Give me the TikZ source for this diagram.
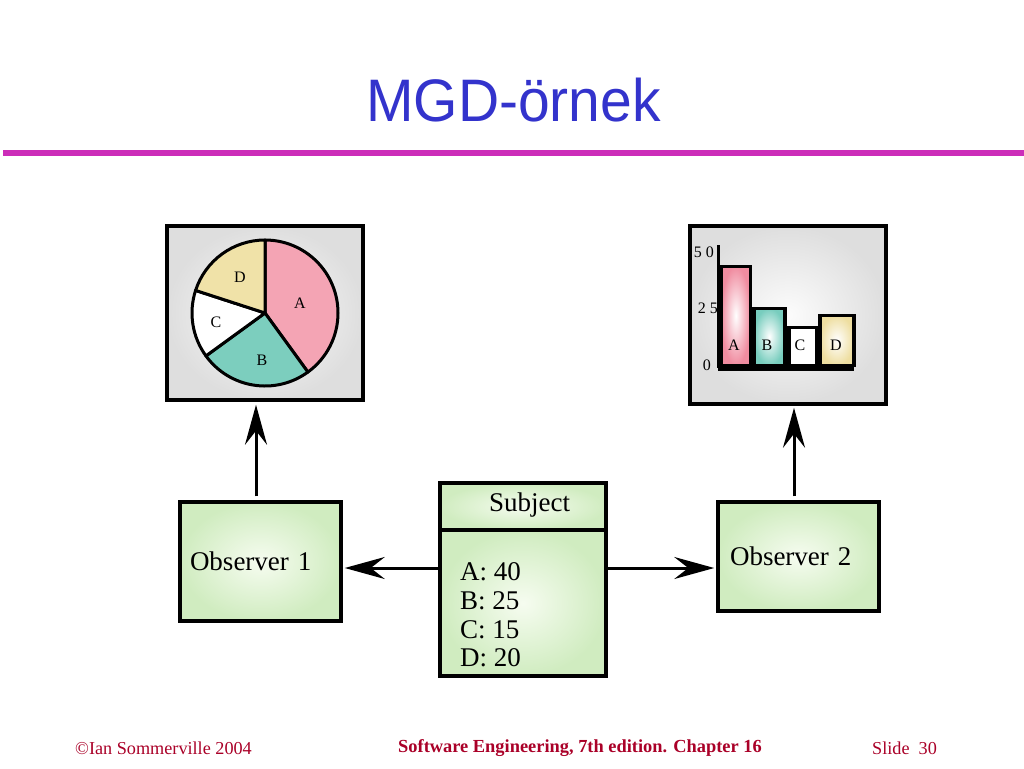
\documentclass[tikz,border=0pt]{standalone}
\usepackage{fontspec}
\setmainfont{Liberation Serif}
\newfontfamily\titlefont{Liberation Sans}
\usetikzlibrary{arrows.meta}
\definecolor{titleblue}{RGB}{51,51,204}
\definecolor{rulemag}{RGB}{204,45,185}
\definecolor{footred}{RGB}{170,0,40}
\definecolor{pieA}{RGB}{244,164,180}
\definecolor{pieB}{RGB}{124,206,190}
\definecolor{pieD}{RGB}{240,226,168}
\definecolor{barA}{RGB}{240,140,160}
\definecolor{barB}{RGB}{120,205,190}
\definecolor{barD}{RGB}{238,222,160}
\definecolor{greenout}{RGB}{208,236,192}
\definecolor{greenin}{RGB}{246,252,240}
\definecolor{grayout}{RGB}{222,222,222}
\definecolor{grayin}{RGB}{252,252,252}
\begin{document}
\begin{tikzpicture}[x=1pt,y=-1pt,
  greenbox/.style={draw=black, line width=3.5pt, shade, inner color=greenin, outer color=greenout, inner sep=0pt},
  graybox/.style={draw=black, line width=3.5pt, shade, inner color=grayin, outer color=grayout, inner sep=0pt},
  boxtext/.style={font=\fontsize{27}{30}\selectfont},
  arr/.style={line width=3pt, -{Stealth[length=40pt,width=22pt,inset=14pt]}},
  slice/.style={draw=black, line width=3pt, line join=round},
  small/.style={font=\fontsize{16}{18}\selectfont, inner sep=0pt},
  barbox/.style={draw=black, line width=3.5pt, inner sep=0pt, anchor=south west},
  foot/.style={text=footred, font=\fontsize{18.2}{20}\selectfont, inner sep=0pt}
]
\useasboundingbox[fill=white] (0,0) rectangle (1024,768);

% title and rule
\node[text=titleblue, inner sep=0pt] (title) at (513.5,100)
  {\titlefont\fontsize{60}{60}\selectfont\scalebox{0.95}[1]{MGD-örnek}};
\coordinate (ruleL) at (3,153);
\coordinate (ruleR) at (1024,153);
\draw[rulemag, line width=6pt] (ruleL) -- (ruleR);

% boxes
\node[graybox, minimum width=196pt, minimum height=174pt] (piebox) at (265,313) {};
\node[graybox, minimum width=196pt, minimum height=178pt] (barchart) at (788,315) {};
\node[greenbox, minimum height=119pt, text width=141pt, inner xsep=10pt, align=left, boxtext] (obs1) at (260.5,561.5) {Observer 1};
\node[greenbox, minimum height=109pt, text width=137pt, inner xsep=12pt, align=left, boxtext] (obs2) at (798.5,556.5) {Observer 2};
\node[greenbox, minimum width=166pt, minimum height=47pt] (subjhead) at (523,506.5) {};
\node[greenbox, minimum width=166pt, minimum height=146pt] (subjbody) at (523,603) {};
\node[boxtext, anchor=west, inner sep=0pt] (subjtitle) at (489,505) {Subject};
\node[anchor=west, inner sep=0pt, align=left, font=\fontsize{27}{28.7}\selectfont] (subjvals) at (460,615)
  {A: 40\\B: 25\\C: 15\\D: 20};

% pie chart
\begin{scope}[shift={(265,313)}, yscale=-1]
  \filldraw[slice, fill=pieA] (0,0) -- (90:73) arc[start angle=90, end angle=-54, radius=73] -- cycle;
  \filldraw[slice, fill=pieB] (0,0) -- (-54:73) arc[start angle=-54, end angle=-144, radius=73] -- cycle;
  \filldraw[slice, fill=white] (0,0) -- (-144:73) arc[start angle=-144, end angle=-198, radius=73] -- cycle;
  \filldraw[slice, fill=pieD] (0,0) -- (-198:73) arc[start angle=-198, end angle=-270, radius=73] -- cycle;
\end{scope}
\node[small] (labD) at (240,277) {D};
\node[small] (labA) at (300,303) {A};
\node[small] (labC) at (216,322) {C};
\node[small] (labB) at (262,360) {B};

% bar chart
\node[small, anchor=east] (y50) at (714,252) {5 0};
\node[small, anchor=east] (y25) at (718,308) {2 5};
\node[small, anchor=east] (y0) at (711,365) {0};
\node[barbox, shade, inner color=white, outer color=barA, minimum width=29pt, minimum height=99pt] (bA) at (719.5,367) {};
\node[barbox, shade, inner color=white, outer color=barB, minimum width=31pt, minimum height=57pt] (bB) at (752,367) {};
\node[barbox, fill=white, minimum width=28pt, minimum height=38pt] (bC) at (787,367) {};
\node[barbox, shade, inner color=white, outer color=barD, minimum width=34pt, minimum height=50pt] (bD) at (818,367) {};
\coordinate (axTop) at (718,245);
\coordinate (axO) at (718,368);
\coordinate (axR) at (854,368);
\draw[line width=3pt] (axTop) -- (axO);
\draw[line width=5pt] (axO) -- (axR);
\node[small] (tA) at (734,345) {A};
\node[small] (tB) at (767,345) {B};
\node[small] (tC) at (800,345) {C};
\node[small] (tD) at (836,345) {D};

% connectors
\path ([xshift=-4.5pt]obs1.north) coordinate (o1top);
\draw[arr, shorten <=4pt, shorten >=3pt] (o1top) -- (o1top |- piebox.south);
\path ([xshift=-4.5pt]obs2.north) coordinate (o2top);
\draw[arr, shorten <=4pt, shorten >=2pt] (o2top) -- (o2top |- barchart.south);
\path ([yshift=35pt]subjbody.west) coordinate (sl);
\draw[arr, shorten >=2pt] (sl) -- (sl -| obs1.east);
\path ([yshift=35pt]subjbody.east) coordinate (sr);
\draw[arr, shorten >=2pt] (sr) -- (sr -| obs2.west);

% footer
\node[foot, anchor=west] (f1) at (75,748) {©Ian Sommerville 2004};
\node[foot, anchor=west, font=\fontsize{18.4}{20}\selectfont\bfseries] (f2) at (398,748) {Software Engineering, 7th edition. Chapter 16};
\node[foot, anchor=west] (f3) at (872,748) {Slide\ \ 30};
\end{tikzpicture}
\end{document}
